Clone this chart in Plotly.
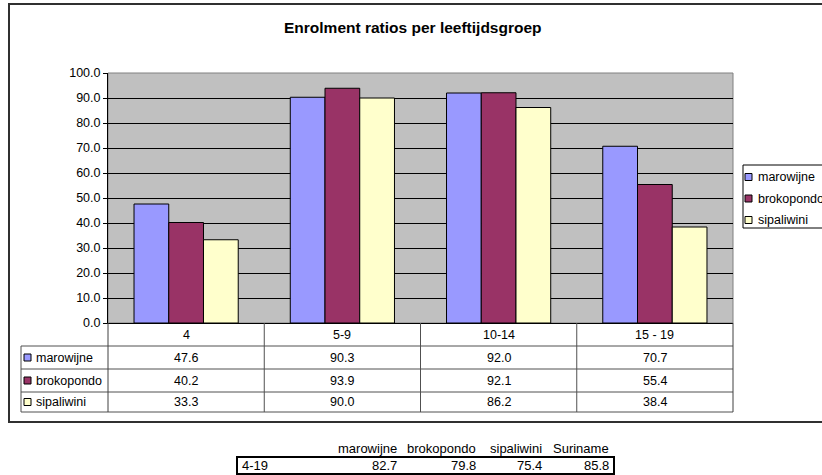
import plotly.graph_objects as go

# ---------------- data ----------------
title_text = "Enrolment ratios per leeftijdsgroep"
categories = ["4", "5-9", "10-14", "15 - 19"]
series_names = ["marowijne", "brokopondo", "sipaliwini"]
marowijne = [47.6, 90.3, 92.0, 70.7]
brokopondo = [40.2, 93.9, 92.1, 55.4]
sipaliwini = [33.3, 90.0, 86.2, 38.4]
series_values = [marowijne, brokopondo, sipaliwini]
series_colors = ["#9999FF", "#993366", "#FFFFCC"]
y_ticks = [0, 10, 20, 30, 40, 50, 60, 70, 80, 90, 100]

summary_label = "4-19"
summary_headers = ["marowijne", "brokopondo", "sipaliwini", "Suriname"]
summary_values = [82.7, 79.8, 75.4, 85.8]

# ---------------- layout helpers ----------------
W, H = 822, 475
FONT = "Liberation Sans, Arial, sans-serif"


def px(x):
    return x / W


def py(y):
    return 1 - y / H


PL, PR, PT, PB = 108, 733, 73, 323          # plot area (pixels)
row_edges = [323, 346, 369, 392, 412]       # data table rows
TL = 21                                      # table left edge
grid_col = "#505050"

fig = go.Figure()
for name, vals, col in zip(series_names, series_values, series_colors):
    fig.add_trace(go.Bar(
        name=name, x=categories, y=vals,
        marker=dict(color=col, line=dict(color="#000000", width=1)),
        showlegend=False, hoverinfo="x+y+name",
    ))

shapes = []
annotations = []


def note(x, y, text, xanchor="center", size=12.5, xref="paper"):
    annotations.append(dict(xref=xref, yref="paper", x=x, y=y, text=text,
                            showarrow=False, xanchor=xanchor, yanchor="middle",
                            font=dict(size=size, color="#000")))


# chart border
shapes.append(dict(type="rect", xref="paper", yref="paper",
                   x0=px(9), x1=px(830), y0=py(422), y1=py(4),
                   line=dict(color="#303030", width=2), layer="above"))
# plot area border (grey)
shapes.append(dict(type="rect", xref="paper", yref="paper",
                   x0=px(PL), x1=px(PR), y0=py(PB), y1=py(PT),
                   line=dict(color="#808080", width=1), layer="below"))

# data table lines
for ye in row_edges[1:]:
    shapes.append(dict(type="line", xref="paper", yref="paper",
                       x0=px(TL), x1=px(PR), y0=py(ye), y1=py(ye),
                       line=dict(color=grid_col, width=1), layer="above"))
shapes.append(dict(type="line", xref="paper", yref="paper",
                   x0=px(TL), x1=px(TL), y0=py(row_edges[1]), y1=py(row_edges[-1]),
                   line=dict(color=grid_col, width=1), layer="above"))
n = len(categories)
for k in range(n + 1):
    xe = PL + (PR - PL) * k / n
    shapes.append(dict(type="line", xref="paper", yref="paper",
                       x0=px(xe), x1=px(xe), y0=py(row_edges[0]), y1=py(row_edges[-1]),
                       line=dict(color=grid_col if 0 < k < n else "#404040", width=1),
                       layer="above"))

# category header labels
for k, c in enumerate(categories):
    note(k, py((row_edges[0] + row_edges[1]) / 2), c, xref="x")
# rows
for r, (name, vals, col) in enumerate(zip(series_names, series_values, series_colors)):
    yc = (row_edges[r + 1] + row_edges[r + 2]) / 2
    shapes.append(dict(type="rect", xref="paper", yref="paper",
                       x0=px(24), x1=px(31), y0=py(yc + 3.5), y1=py(yc - 3.5),
                       fillcolor=col, line=dict(color="#000", width=1), layer="above"))
    note(px(34), py(yc), name, xanchor="left")
    for k, v in enumerate(vals):
        note(k, py(yc), f"{v:.1f}", xref="x")

# side legend
shapes.append(dict(type="rect", xref="paper", yref="paper",
                   x0=px(743), x1=px(840), y0=py(228), y1=py(165),
                   fillcolor="#FFFFFF", line=dict(color="#000", width=1), layer="above"))
leg_y = [177, 198.5, 220]
for name, col, yc in zip(series_names, series_colors, leg_y):
    shapes.append(dict(type="rect", xref="paper", yref="paper",
                       x0=px(745), x1=px(752), y0=py(yc + 3.5), y1=py(yc - 3.5),
                       fillcolor=col, line=dict(color="#000", width=1), layer="above"))
    note(px(756), py(yc), name, xanchor="left")

# title
note(px(413), py(27), f"<b>{title_text}</b>", size=15.5)

# summary table below chart
col_right = [399, 478, 544, 611]
for hdr, xr in zip(summary_headers, col_right):
    note(px(xr), py(448), hdr, xanchor="right", size=13)
for v, xr in zip(summary_values, col_right):
    note(px(xr), py(465.5), f"{v:.1f}", xanchor="right", size=13)
note(px(240), py(465.5), summary_label, xanchor="left", size=13)
shapes.append(dict(type="rect", xref="paper", yref="paper",
                   x0=px(237), x1=px(614), y0=py(474), y1=py(457),
                   line=dict(color="#000", width=2), layer="above"))

fig.update_layout(
    width=W, height=H,
    margin=dict(l=0, r=0, t=0, b=0, pad=0, autoexpand=False),
    paper_bgcolor="#FFFFFF",
    plot_bgcolor="#C0C0C0",
    barmode="group", bargap=0.333, bargroupgap=0,
    font=dict(family=FONT, size=12.5, color="#000"),
    showlegend=False,
    xaxis=dict(domain=[px(PL), px(PR)], range=[-0.5, n - 0.5],
               showticklabels=False, ticks="", showgrid=False,
               showline=True, linecolor="#000", linewidth=1, zeroline=False),
    yaxis=dict(domain=[py(PB), py(PT)], range=[0, 100],
               tickvals=y_ticks, tickformat=".1f",
               ticks="outside", ticklen=4, tickcolor="#000",
               showgrid=True, gridcolor="#000", gridwidth=1,
               showline=True, linecolor="#000", linewidth=1, zeroline=False,
               tickfont=dict(size=12.5, color="#000")),
    shapes=shapes, annotations=annotations,
)

fig.write_html("out.html", config={"displayModeBar": False},
               post_script="document.body.style.margin='0';document.body.style.overflow='hidden';")
